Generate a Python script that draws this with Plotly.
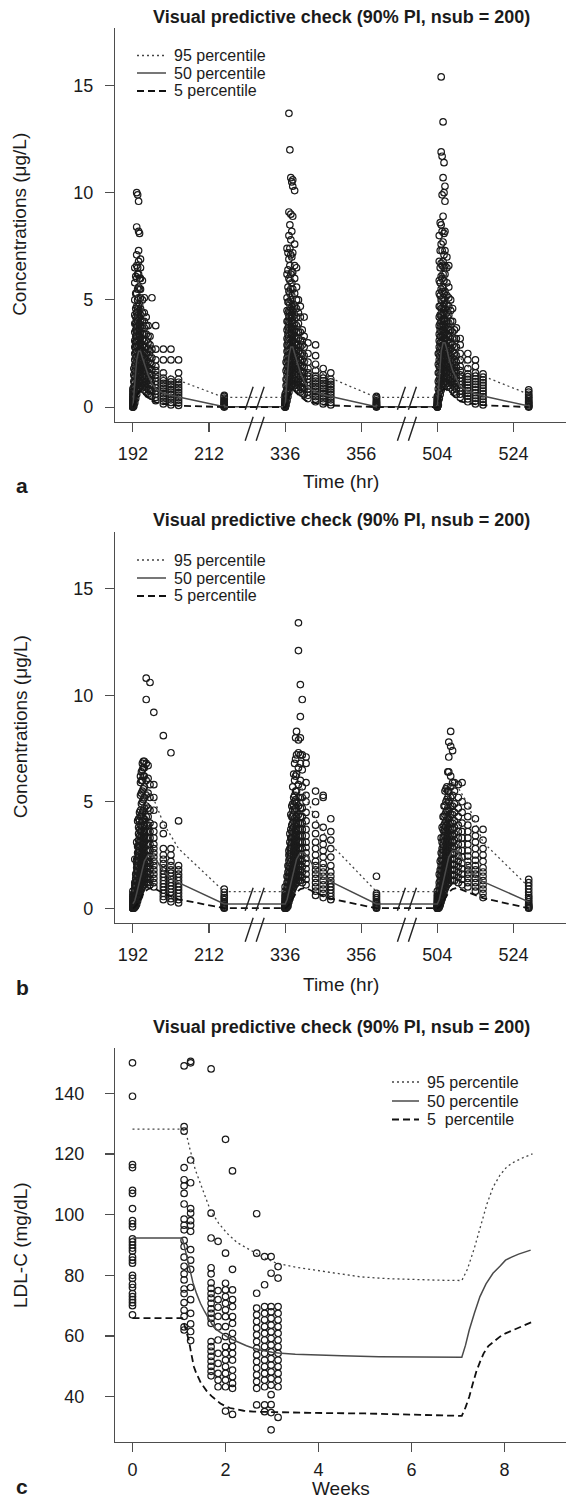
import plotly.graph_objects as go

# ------------------------------------------------------------------ text
TITLE = "Visual predictive check (90% PI, nsub = 200)"
PCT_NAMES_AB = ["95 percentile", "50 percentile", "5 percentile"]
PCT_NAMES_C = ["95 percentile", "50 percentile", "5  percentile"]
Y_TITLE_AB = "Concentrations (μg/L)"
Y_TITLE_C = "LDL-C (mg/dL)"
X_TITLE_AB = "Time (hr)"
X_TITLE_C = "Weeks"

# ------------------------------------------------------------------ time axis (with breaks) for panels a, b
DOSE_TIMES = [192, 336, 504]        # start of each dosing interval (hr)
AXIS_CUT = [0, 104, 232]            # hours cut out of the axis before each interval
X_TICKS = [192, 212, 336, 356, 504, 524]
X_TICK_INTERVAL = [0, 0, 1, 1, 2, 2]
Y_TICKS_AB = [0, 5, 10, 15]

# ------------------------------------------------------------------ panel a : observed concentrations (µg/L)
A_HOURS = [0, 0.25, 0.5, 0.75, 1, 1.25, 1.5, 1.75, 2, 2.5, 3, 3.5, 4, 4.5, 5, 6, 8, 10, 12, 24]
A1_CONC = [
    [0, 0, 0, 0.02, 0.03, 0.05, 0.07, 0.1, 0.12, 0.15, 0.18, 0.22, 0.26, 0.3, 0.35, 0.42, 0.5, 0.6, 0.72, 0.85],
    [0.05, 0.15, 0.3, 0.5, 0.7, 0.95, 1.2, 1.5, 1.8],
    [0.2, 0.45, 0.7, 0.95, 1.2, 1.45, 1.7, 1.95, 2.2, 2.5, 2.8, 3.1, 3.5, 3.9, 4.3, 5.0, 5.8, 6.5],
    [0.4, 0.7, 1.0, 1.3, 1.55, 1.8, 2.05, 2.3, 2.55, 2.8, 3.05, 3.3, 3.6, 3.9, 4.2, 4.6, 5.3, 6.1],
    [0.6, 0.85, 1.1, 1.35, 1.6, 1.85, 2.1, 2.35, 2.6, 2.85, 3.1, 3.35, 3.6, 3.85, 4.1, 4.4, 4.7, 5.3, 6.0, 6.6, 7.1, 8.4, 10.0],
    [0.8, 1.05, 1.3, 1.55, 1.8, 2.05, 2.3, 2.55, 2.8, 3.05, 3.3, 3.55, 3.8, 4.05, 4.3, 4.6, 5.0, 5.5, 6.2, 6.5, 9.9],
    [0.9, 1.15, 1.4, 1.65, 1.9, 2.15, 2.4, 2.65, 2.9, 3.15, 3.4, 3.65, 3.9, 4.15, 4.4, 4.7, 5.1, 5.6, 6.2, 6.8, 7.3, 8.2, 9.6],
    [0.9, 1.2, 1.5, 1.8, 2.1, 2.4, 2.7, 3.0, 3.3, 3.6, 3.9, 4.2, 4.5, 4.8, 5.5, 6.0, 8.1],
    [1.0, 1.25, 1.5, 1.75, 2.0, 2.25, 2.5, 2.75, 3.0, 3.25, 3.5, 3.75, 4.0, 4.3, 4.6, 5.1, 5.5, 6.0, 6.5, 6.9],
    [0.9, 1.15, 1.4, 1.65, 1.9, 2.15, 2.4, 2.65, 2.9, 3.15, 3.4, 3.7, 4.0, 4.4, 5.0, 5.9],
    [0.8, 1.05, 1.3, 1.55, 1.8, 2.05, 2.3, 2.55, 2.8, 3.1, 3.4, 3.7, 4.0, 4.4, 5.1],
    [0.7, 0.95, 1.2, 1.45, 1.7, 1.95, 2.2, 2.5, 2.8, 3.1, 3.4, 3.8, 4.2],
    [0.6, 0.85, 1.1, 1.35, 1.6, 1.85, 2.1, 2.4, 2.7, 3.0, 3.3, 3.8],
    [0.55, 0.8, 1.05, 1.3, 1.55, 1.8, 2.05, 2.3, 2.6, 2.9, 3.3],
    [0.5, 0.75, 1.0, 1.25, 1.5, 1.75, 2.0, 2.3, 2.7, 5.1],
    [0.3, 0.45, 0.6, 0.75, 0.9, 1.05, 1.2, 1.35, 1.5, 1.7, 1.9, 2.2, 2.7, 3.8],
    [0.15, 0.27, 0.39, 0.51, 0.63, 0.75, 0.87, 0.99, 1.11, 1.23, 1.35, 1.6, 2.2, 2.7],
    [0.1, 0.22, 0.34, 0.46, 0.58, 0.7, 0.82, 0.94, 1.06, 1.18, 1.3, 2.2, 2.7],
    [0.08, 0.2, 0.32, 0.44, 0.56, 0.68, 0.8, 0.92, 1.04, 1.16, 1.3, 1.6, 2.2],
    [0, 0.02, 0.05, 0.08, 0.12, 0.16, 0.2, 0.25, 0.3, 0.36, 0.42, 0.5, 0.55],
]
A2_CONC = [
    [0, 0, 0, 0.02, 0.04, 0.06, 0.08, 0.1, 0.13, 0.16, 0.2, 0.25, 0.3, 0.36, 0.43, 0.5, 0.6],
    [0.1, 0.25, 0.45, 0.7, 1.0, 1.3, 1.7, 2.1],
    [0.3, 0.55, 0.8, 1.05, 1.3, 1.55, 1.8, 2.05, 2.3, 2.6, 2.9, 3.2, 3.6, 4.0, 4.5, 5.1, 6.2, 7.4],
    [0.5, 0.8, 1.1, 1.4, 1.65, 1.9, 2.15, 2.4, 2.65, 2.9, 3.15, 3.4, 3.7, 4.0, 4.4, 4.9, 5.6, 6.4, 7.2],
    [0.7, 0.95, 1.2, 1.45, 1.7, 1.95, 2.2, 2.45, 2.7, 2.95, 3.2, 3.45, 3.7, 3.95, 4.2, 4.5, 4.9, 5.4, 6.0, 6.9, 8.0, 9.1, 13.7],
    [0.9, 1.15, 1.4, 1.65, 1.9, 2.15, 2.4, 2.65, 2.9, 3.15, 3.4, 3.65, 3.9, 4.15, 4.4, 4.8, 5.3, 5.9, 6.6, 7.4, 8.5, 12.0],
    [1.0, 1.25, 1.5, 1.75, 2.0, 2.25, 2.5, 2.75, 3.0, 3.25, 3.5, 3.75, 4.0, 4.3, 4.6, 5.0, 5.5, 6.2, 7.1, 7.8, 9.0, 10.7],
    [1.0, 1.3, 1.6, 1.9, 2.2, 2.5, 2.8, 3.1, 3.4, 3.7, 4.0, 4.3, 4.7, 5.2, 5.8, 6.3, 7.0, 8.2, 10.5],
    [1.1, 1.35, 1.6, 1.85, 2.1, 2.35, 2.6, 2.85, 3.1, 3.35, 3.6, 3.9, 4.2, 4.5, 4.8, 5.5, 6.3, 7.2, 8.9, 10.3, 10.6],
    [1.0, 1.25, 1.5, 1.75, 2.0, 2.25, 2.5, 2.75, 3.0, 3.3, 3.6, 3.9, 4.3, 4.7, 5.3, 6.0, 6.6, 7.6, 10.1],
    [0.9, 1.15, 1.4, 1.65, 1.9, 2.15, 2.4, 2.65, 2.9, 3.2, 3.5, 3.8, 4.2, 4.6, 5.0, 5.6, 6.5],
    [0.8, 1.05, 1.3, 1.55, 1.8, 2.05, 2.3, 2.6, 2.9, 3.2, 3.5, 3.9, 4.4, 5.0],
    [0.7, 0.95, 1.2, 1.45, 1.7, 1.95, 2.2, 2.5, 2.8, 3.1, 3.5, 4.2, 4.7],
    [0.65, 0.9, 1.15, 1.4, 1.65, 1.9, 2.2, 2.5, 2.9, 3.1, 3.6],
    [0.6, 0.85, 1.1, 1.35, 1.6, 1.85, 2.1, 2.4, 2.8, 3.3, 4.2],
    [0.4, 0.55, 0.7, 0.85, 1.0, 1.15, 1.3, 1.45, 1.6, 1.8, 2.1, 2.5, 3.0],
    [0.25, 0.37, 0.49, 0.61, 0.73, 0.85, 0.97, 1.09, 1.21, 1.33, 1.45, 1.7, 2.0, 2.4, 2.9],
    [0.15, 0.27, 0.39, 0.51, 0.63, 0.75, 0.87, 0.99, 1.11, 1.23, 1.35, 1.5, 1.8],
    [0.1, 0.22, 0.34, 0.46, 0.58, 0.7, 0.82, 0.94, 1.06, 1.18, 1.3, 1.6],
    [0, 0.02, 0.05, 0.08, 0.12, 0.16, 0.2, 0.25, 0.3, 0.38, 0.45, 0.5],
]
A3_CONC = [
    [0, 0, 0, 0.02, 0.04, 0.06, 0.08, 0.1, 0.13, 0.16, 0.2, 0.25, 0.3, 0.36, 0.43, 0.5],
    [0.1, 0.3, 0.55, 0.85, 1.2, 1.6, 2.0, 2.5],
    [0.4, 0.7, 1.0, 1.3, 1.6, 1.9, 2.2, 2.5, 2.8, 3.1, 3.4, 3.8, 4.2, 4.7, 5.3, 5.9, 6.8, 8.0],
    [0.6, 0.9, 1.2, 1.5, 1.8, 2.1, 2.4, 2.7, 3.0, 3.3, 3.6, 3.9, 4.3, 4.7, 5.2, 5.8, 6.5, 7.3, 8.6],
    [0.8, 1.05, 1.3, 1.55, 1.8, 2.05, 2.3, 2.55, 2.8, 3.05, 3.3, 3.55, 3.8, 4.05, 4.3, 4.6, 5.0, 5.5, 6.1, 6.7, 7.6, 8.5, 11.9, 15.4],
    [1.0, 1.25, 1.5, 1.75, 2.0, 2.25, 2.5, 2.75, 3.0, 3.25, 3.5, 3.75, 4.0, 4.3, 4.6, 5.0, 5.4, 6.0, 6.6, 7.3, 8.2, 9.9, 11.7],
    [1.1, 1.35, 1.6, 1.85, 2.1, 2.35, 2.6, 2.85, 3.1, 3.35, 3.6, 3.85, 4.1, 4.4, 4.7, 5.1, 5.6, 6.2, 6.8, 7.7, 8.9, 10.7, 13.3],
    [1.1, 1.4, 1.7, 2.0, 2.3, 2.6, 2.9, 3.2, 3.5, 3.8, 4.1, 4.4, 4.8, 5.3, 5.9, 6.5, 7.1, 8.1, 10.0, 11.4],
    [1.2, 1.45, 1.7, 1.95, 2.2, 2.45, 2.7, 2.95, 3.2, 3.45, 3.7, 4.0, 4.3, 4.6, 5.0, 5.4, 6.2, 6.6, 7.3, 8.2, 9.6, 10.3],
    [1.1, 1.35, 1.6, 1.85, 2.1, 2.35, 2.6, 2.85, 3.1, 3.4, 3.7, 4.0, 4.4, 4.8, 5.2, 5.8, 6.5, 7.0],
    [1.0, 1.25, 1.5, 1.75, 2.0, 2.25, 2.5, 2.75, 3.0, 3.3, 3.6, 3.9, 4.3, 4.7, 5.1, 5.6, 6.6],
    [0.9, 1.15, 1.4, 1.65, 1.9, 2.15, 2.4, 2.7, 3.0, 3.3, 3.6, 4.0, 4.5, 5.0],
    [0.8, 1.05, 1.3, 1.55, 1.8, 2.05, 2.3, 2.6, 2.9, 3.2, 3.5, 4.0, 4.6],
    [0.7, 0.95, 1.2, 1.45, 1.7, 1.95, 2.2, 2.5, 2.8, 3.2, 3.6],
    [0.6, 0.85, 1.1, 1.35, 1.6, 1.85, 2.1, 2.4, 2.8, 3.2, 3.7],
    [0.45, 0.6, 0.75, 0.9, 1.05, 1.2, 1.35, 1.5, 1.7, 1.9, 2.2, 2.5, 2.9, 3.2],
    [0.25, 0.38, 0.51, 0.64, 0.77, 0.9, 1.03, 1.16, 1.29, 1.42, 1.55, 1.8, 2.2, 2.5],
    [0.15, 0.28, 0.41, 0.54, 0.67, 0.8, 0.93, 1.06, 1.19, 1.32, 1.45, 1.6, 1.9, 2.2],
    [0.1, 0.23, 0.36, 0.49, 0.62, 0.75, 0.88, 1.01, 1.14, 1.27, 1.4, 1.55],
    [0, 0.02, 0.05, 0.1, 0.15, 0.2, 0.25, 0.3, 0.38, 0.45, 0.52, 0.6, 0.7, 0.8],
]

# panel a : simulated percentiles (one row per dosing interval)
PCT_HOURS = [0, 0.5, 1, 1.5, 2, 2.5, 3, 4, 5, 6, 8, 10, 12, 24]
A_P95 = [
    [0.45, 3.5, 5.5, 6.0, 5.6, 4.8, 4.0, 3.0, 2.4, 2.0, 1.7, 1.45, 1.25, 0.45],
    [0.45, 4.0, 6.0, 6.4, 6.0, 5.2, 4.4, 3.3, 2.6, 2.1, 1.8, 1.55, 1.35, 0.45],
    [0.45, 4.4, 6.5, 6.9, 6.5, 5.7, 4.8, 3.6, 2.8, 2.3, 1.9, 1.65, 1.45, 0.6],
]
A_P50 = [
    [0.02, 1.2, 2.2, 2.6, 2.6, 2.3, 2.0, 1.5, 1.1, 0.85, 0.65, 0.55, 0.47, 0.02],
    [0.02, 1.3, 2.4, 2.8, 2.8, 2.5, 2.2, 1.6, 1.2, 0.9, 0.7, 0.58, 0.5, 0.02],
    [0.02, 1.4, 2.6, 3.0, 3.0, 2.7, 2.3, 1.7, 1.3, 0.95, 0.75, 0.62, 0.52, 0.05],
]
A_P5 = [
    [0, 0.2, 0.5, 0.7, 0.75, 0.7, 0.6, 0.45, 0.3, 0.22, 0.15, 0.1, 0.07, 0],
    [0, 0.25, 0.55, 0.75, 0.8, 0.75, 0.65, 0.5, 0.35, 0.25, 0.17, 0.12, 0.08, 0],
    [0, 0.3, 0.6, 0.8, 0.85, 0.8, 0.7, 0.55, 0.38, 0.27, 0.18, 0.13, 0.09, 0],
]

# ------------------------------------------------------------------ panel b : observed concentrations (µg/L)
B1_HOURS = [0, 0.25, 0.5, 0.75, 1, 1.25, 1.5, 1.75, 2, 2.25, 2.5, 2.75, 3, 3.5, 4, 4.5, 5.5, 8, 10, 12, 24]
B1_CONC = [
    [0, 0, 0, 0.02, 0.04, 0.06, 0.08, 0.1, 0.13, 0.16, 0.2, 0.25, 0.3, 0.38, 0.45, 0.55, 0.65, 0.8],
    [0, 0.03, 0.06, 0.1, 0.15, 0.2, 0.3, 0.4, 0.55],
    [0.05, 0.1, 0.15, 0.22, 0.3, 0.4, 0.5, 0.62, 0.75, 0.9, 1.05, 1.2, 2.3],
    [0.1, 0.2, 0.3, 0.42, 0.55, 0.7, 0.85, 1.0, 1.2, 1.4, 1.6],
    [0.2, 0.35, 0.5, 0.65, 0.8, 0.95, 1.1, 1.3, 1.5, 1.7, 1.9, 2.1, 2.3, 3.1],
    [0.35, 0.5, 0.7, 0.9, 1.1, 1.3, 1.5, 1.7, 1.9, 2.1, 2.35, 2.6, 2.9, 4.1],
    [0.5, 0.7, 0.9, 1.1, 1.3, 1.5, 1.7, 1.9, 2.1, 2.35, 2.6, 2.9, 3.2, 3.5, 3.8, 4.2],
    [0.6, 0.85, 1.1, 1.35, 1.6, 1.85, 2.1, 2.35, 2.6, 2.85, 3.1, 3.4, 3.7, 4.1, 4.5],
    [0.8, 1.05, 1.3, 1.55, 1.8, 2.05, 2.3, 2.55, 2.8, 3.05, 3.3, 3.6, 3.9, 4.3, 4.6, 5.3, 5.9, 6.2],
    [0.9, 1.15, 1.4, 1.65, 1.9, 2.15, 2.4, 2.65, 2.9, 3.15, 3.4, 3.7, 4.0, 4.4, 4.9, 5.4, 6.0, 6.4],
    [1.0, 1.25, 1.5, 1.75, 2.0, 2.25, 2.5, 2.75, 3.0, 3.25, 3.5, 3.8, 4.1, 4.5, 5.0, 5.5, 6.0, 6.5, 6.8],
    [1.05, 1.3, 1.55, 1.8, 2.05, 2.3, 2.55, 2.8, 3.05, 3.3, 3.6, 3.9, 4.2, 4.6, 5.1, 5.6, 6.2, 6.6, 6.9],
    [1.1, 1.35, 1.6, 1.85, 2.1, 2.35, 2.6, 2.85, 3.1, 3.35, 3.6, 3.9, 4.2, 4.7, 5.2, 5.7, 6.2, 6.6, 6.9],
    [1.2, 1.45, 1.7, 1.95, 2.2, 2.45, 2.7, 3.0, 3.3, 3.6, 3.9, 4.3, 4.8, 5.3, 6.0, 6.8, 9.8, 10.8],
    [1.2, 1.45, 1.7, 1.95, 2.2, 2.45, 2.7, 3.0, 3.3, 3.6, 3.9, 4.3, 4.7, 5.4, 6.1, 6.7],
    [1.1, 1.35, 1.6, 1.85, 2.1, 2.4, 2.7, 3.0, 3.3, 3.6, 4.0, 4.6, 5.2, 5.8, 10.6],
    [1.0, 1.2, 1.4, 1.6, 1.8, 2.0, 2.2, 2.4, 2.6, 2.8, 3.0, 3.3, 3.6, 3.9, 4.6, 5.2, 5.8, 9.2],
    [0.4, 0.55, 0.7, 0.85, 1.0, 1.15, 1.3, 1.45, 1.6, 1.75, 1.9, 2.1, 2.3, 2.5, 2.8, 3.5, 3.9, 8.1],
    [0.3, 0.45, 0.6, 0.75, 0.9, 1.05, 1.2, 1.35, 1.5, 1.65, 1.8, 2.0, 2.2, 2.5, 2.8, 7.3],
    [0.25, 0.4, 0.55, 0.7, 0.85, 1.0, 1.15, 1.3, 1.45, 1.6, 1.8, 2.0, 4.1],
    [0, 0.02, 0.05, 0.1, 0.15, 0.2, 0.25, 0.3, 0.4, 0.5, 0.6, 0.75, 0.9],
]
B2_HOURS = [0, 0.25, 0.5, 0.75, 1, 1.25, 1.5, 1.75, 2, 2.25, 2.5, 2.75, 3, 3.5, 4, 4.5, 5.5, 8, 10, 12, 24]
B2_CONC = [
    [0, 0, 0, 0.02, 0.04, 0.06, 0.08, 0.1, 0.13, 0.16, 0.2, 0.25, 0.3, 0.38, 0.45, 0.55, 0.65, 0.8, 1.0],
    [0, 0.03, 0.06, 0.1, 0.15, 0.2, 0.3, 0.4, 0.55],
    [0.05, 0.1, 0.18, 0.26, 0.35, 0.45, 0.57, 0.7, 0.85, 1.0, 1.2, 1.5],
    [0.1, 0.2, 0.32, 0.45, 0.6, 0.75, 0.9, 1.05, 1.25, 1.45, 1.7, 2.0],
    [0.3, 0.45, 0.6, 0.75, 0.9, 1.05, 1.2, 1.4, 1.6, 1.8, 2.0, 2.25, 2.5, 2.7],
    [0.45, 0.65, 0.85, 1.05, 1.25, 1.45, 1.65, 1.85, 2.05, 2.3, 2.55, 2.8, 3.1, 3.5],
    [0.6, 0.8, 1.0, 1.2, 1.4, 1.6, 1.8, 2.0, 2.25, 2.5, 2.75, 3.0, 3.3, 3.7, 4.4],
    [0.75, 1.0, 1.25, 1.5, 1.75, 2.0, 2.25, 2.5, 2.75, 3.0, 3.3, 3.6, 3.9, 4.3, 4.8],
    [0.9, 1.15, 1.4, 1.65, 1.9, 2.15, 2.4, 2.65, 2.9, 3.15, 3.4, 3.7, 4.0, 4.3, 4.6, 4.9, 5.7],
    [1.0, 1.25, 1.5, 1.75, 2.0, 2.25, 2.5, 2.75, 3.0, 3.25, 3.5, 3.8, 4.1, 4.4, 4.8, 5.2, 6.3],
    [1.1, 1.35, 1.6, 1.85, 2.1, 2.35, 2.6, 2.85, 3.1, 3.35, 3.6, 3.9, 4.2, 4.6, 5.0, 5.3, 6.0, 6.8],
    [1.15, 1.4, 1.65, 1.9, 2.15, 2.4, 2.65, 2.9, 3.15, 3.4, 3.7, 4.0, 4.3, 4.7, 5.1, 5.5, 6.2, 7.0, 8.0],
    [1.2, 1.45, 1.7, 1.95, 2.2, 2.45, 2.7, 2.95, 3.2, 3.45, 3.7, 4.0, 4.3, 4.6, 5.0, 5.5, 6.3, 7.2, 8.3],
    [1.3, 1.55, 1.8, 2.05, 2.3, 2.55, 2.8, 3.1, 3.4, 3.7, 4.0, 4.4, 4.8, 5.2, 5.8, 6.6, 7.3, 7.9, 12.1, 13.4],
    [1.3, 1.55, 1.8, 2.05, 2.3, 2.55, 2.8, 3.1, 3.4, 3.7, 4.0, 4.3, 4.7, 5.2, 6.0, 6.8, 7.2, 8.0, 9.0, 10.5],
    [1.2, 1.45, 1.7, 1.95, 2.2, 2.5, 2.8, 3.1, 3.4, 3.7, 4.0, 4.3, 4.7, 5.2, 5.7, 6.5, 7.2, 9.8],
    [1.1, 1.35, 1.6, 1.85, 2.1, 2.35, 2.6, 2.85, 3.1, 3.4, 3.7, 4.1, 4.5, 5.0, 5.3, 5.9, 6.8, 7.1],
    [0.6, 0.8, 1.0, 1.2, 1.4, 1.6, 1.8, 2.0, 2.2, 2.5, 2.8, 3.1, 3.5, 3.9, 4.4, 5.0, 5.5],
    [0.5, 0.7, 0.9, 1.1, 1.3, 1.5, 1.7, 1.9, 2.1, 2.4, 2.7, 3.0, 3.3, 3.8, 5.2, 5.3],
    [0.4, 0.55, 0.7, 0.85, 1.0, 1.15, 1.3, 1.5, 1.7, 2.0, 2.4, 2.8, 3.2, 3.6, 4.2],
    [0, 0.02, 0.05, 0.1, 0.15, 0.2, 0.25, 0.3, 0.4, 0.5, 0.6, 0.7, 1.5],
]
B3_HOURS = [0, 0.25, 0.5, 0.75, 1, 1.25, 1.5, 1.75, 2, 2.25, 2.5, 2.75, 3, 3.5, 4, 4.5, 5.5, 6.5, 8, 10, 12, 24]
B3_CONC = [
    [0, 0, 0, 0.02, 0.04, 0.06, 0.08, 0.1, 0.13, 0.16, 0.2, 0.25, 0.3, 0.38, 0.45, 0.55, 0.65, 0.8],
    [0, 0.03, 0.06, 0.1, 0.15, 0.2, 0.3, 0.4, 0.6],
    [0.05, 0.1, 0.18, 0.26, 0.35, 0.45, 0.57, 0.7, 0.85, 1.0, 1.2, 1.6],
    [0.15, 0.25, 0.37, 0.5, 0.65, 0.8, 0.95, 1.1, 1.3, 1.5, 1.8, 2.2],
    [0.3, 0.45, 0.6, 0.75, 0.9, 1.05, 1.2, 1.4, 1.6, 1.8, 2.0, 2.3, 2.6, 3.3],
    [0.45, 0.65, 0.85, 1.05, 1.25, 1.45, 1.65, 1.85, 2.05, 2.3, 2.55, 2.8, 3.1, 3.8],
    [0.6, 0.8, 1.0, 1.2, 1.4, 1.6, 1.8, 2.0, 2.25, 2.5, 2.75, 3.0, 3.3, 3.7, 4.3],
    [0.75, 1.0, 1.25, 1.5, 1.75, 2.0, 2.25, 2.5, 2.75, 3.0, 3.3, 3.6, 3.9, 4.3, 4.8],
    [0.9, 1.15, 1.4, 1.65, 1.9, 2.15, 2.4, 2.65, 2.9, 3.15, 3.4, 3.7, 4.0, 4.4, 4.8, 5.5],
    [1.0, 1.25, 1.5, 1.75, 2.0, 2.25, 2.5, 2.75, 3.0, 3.25, 3.5, 3.8, 4.1, 4.5, 5.0, 5.6],
    [1.1, 1.35, 1.6, 1.85, 2.1, 2.35, 2.6, 2.85, 3.1, 3.35, 3.6, 3.9, 4.2, 4.6, 5.1, 5.7],
    [1.15, 1.4, 1.65, 1.9, 2.15, 2.4, 2.65, 2.9, 3.15, 3.4, 3.7, 4.0, 4.3, 4.7, 5.2, 5.5, 6.4],
    [1.2, 1.45, 1.7, 1.95, 2.2, 2.45, 2.7, 2.95, 3.2, 3.5, 3.8, 4.2, 4.6, 5.0, 5.5, 6.4, 7.1, 7.8],
    [1.3, 1.55, 1.8, 2.05, 2.3, 2.55, 2.8, 3.1, 3.4, 3.7, 4.0, 4.4, 4.8, 5.2, 5.7, 6.2, 7.6, 8.3],
    [1.3, 1.55, 1.8, 2.05, 2.3, 2.55, 2.8, 3.1, 3.4, 3.7, 4.0, 4.4, 4.8, 5.3, 5.9, 7.4],
    [1.3, 1.55, 1.8, 2.05, 2.3, 2.6, 2.9, 3.2, 3.5, 3.8, 4.1, 4.5, 4.9, 5.5, 5.9],
    [1.2, 1.45, 1.7, 1.95, 2.2, 2.45, 2.7, 3.0, 3.3, 3.6, 3.9, 4.3, 4.7, 5.2, 5.8],
    [1.1, 1.35, 1.6, 1.85, 2.1, 2.4, 2.7, 3.0, 3.3, 3.6, 4.0, 4.5, 5.0, 5.9],
    [1.0, 1.2, 1.4, 1.6, 1.8, 2.0, 2.2, 2.45, 2.7, 3.0, 3.3, 3.6, 3.9, 4.3, 4.8],
    [0.8, 1.0, 1.2, 1.4, 1.6, 1.8, 2.0, 2.25, 2.5, 2.8, 3.1, 3.4, 3.7, 4.2],
    [0.5, 0.7, 0.9, 1.1, 1.3, 1.5, 1.7, 1.9, 2.2, 2.5, 2.8, 3.2, 3.7],
    [0, 0.02, 0.05, 0.1, 0.15, 0.2, 0.3, 0.4, 0.5, 0.6, 0.75, 0.9, 1.05, 1.2, 1.35],
]

# panel b : simulated percentiles (one row per dosing interval)
B_P95 = [
    [0.78, 1.2, 2.2, 3.2, 4.1, 4.8, 5.2, 5.5, 5.3, 4.9, 4.0, 3.4, 2.8, 0.78],
    [0.78, 1.4, 2.5, 3.5, 4.4, 5.0, 5.4, 5.7, 5.5, 5.0, 4.2, 3.6, 3.0, 0.78],
    [0.78, 1.5, 2.6, 3.6, 4.5, 5.1, 5.5, 5.9, 5.8, 5.5, 4.9, 4.0, 3.1, 1.0],
]
B_P50 = [
    [0.2, 0.35, 0.7, 1.1, 1.5, 1.9, 2.2, 2.5, 2.5, 2.3, 1.75, 1.4, 1.2, 0.2],
    [0.2, 0.4, 0.8, 1.2, 1.6, 2.0, 2.3, 2.6, 2.6, 2.4, 1.8, 1.45, 1.25, 0.2],
    [0.2, 0.4, 0.8, 1.2, 1.6, 2.0, 2.4, 2.7, 2.7, 2.5, 1.9, 1.5, 1.25, 0.3],
]
B_P5 = [
    [0, 0.05, 0.15, 0.3, 0.45, 0.6, 0.75, 0.9, 0.95, 0.9, 0.7, 0.55, 0.42, 0],
    [0, 0.05, 0.15, 0.3, 0.45, 0.6, 0.75, 0.9, 0.95, 0.9, 0.72, 0.57, 0.45, 0],
    [0, 0.05, 0.15, 0.3, 0.45, 0.6, 0.75, 0.9, 0.95, 0.9, 0.75, 0.6, 0.47, 0],
]

# ------------------------------------------------------------------ panel c : LDL-C (mg/dL)
C_WEEKS = [0, 1.11, 1.25, 1.69, 1.84, 2.0, 2.15, 2.67, 2.84, 2.98, 3.13]
C_LDL = [
    [150, 139, 116.5, 115.5, 108, 107, 102, 98, 97, 96, 92, 91, 90, 89, 88, 86, 85, 84, 80, 79, 77, 76,
     74, 73, 72, 71, 70, 67],
    [149, 129, 127.5, 115.5, 111.5, 109.5, 107, 103.5, 98.5, 96.5, 95, 91.5, 89.5, 86, 83, 80.5, 78.5,
     75.5, 74, 71, 68.5, 66.5, 63, 62],
    [150.5, 150, 118, 110.5, 102, 100.5, 98, 96.5, 94.5, 88.5, 85, 82, 76, 72, 67.5, 64, 61.5, 58.5],
    [148, 100.5, 92.3, 82.5, 80.5, 77.5, 75.7, 74, 72.5, 70.8, 69, 67.5, 65.8, 64.2, 58.2, 56.5, 55,
     53.3, 51.7, 50, 48.4, 46.9],
    [91.2, 75, 72, 69.5, 66.5, 63, 58.7, 54.3, 51, 47.7, 45.5, 43.3],
    [124.8, 87.3, 77.4, 75.2, 73, 70.8, 68.6, 66.4, 63.1, 59.8, 56.5, 54.3, 52.1, 49.9, 47.7, 45.5,
     43.3, 35.3],
    [114.4, 82, 75.2, 72, 69.7, 66.4, 64.2, 60.9, 58.7, 56.5, 54.3, 52.1, 48.8, 46.6, 44.4, 42.8, 34.2],
    [100.3, 87.3, 74.1, 69.2, 67, 64.8, 62.6, 60.4, 58.2, 56, 53.8, 51.6, 49.4, 47.2, 45, 42.8, 37.3],
    [86.2, 76.9, 69.7, 67.5, 65.3, 63.1, 60.9, 58.7, 56.5, 54.3, 52.1, 49.9, 47.7, 45.5, 43.3, 37.3,
     35.1],
    [86.2, 80.7, 69.7, 68, 65.8, 63.6, 61.4, 59.2, 57, 54.8, 52.6, 50.4, 48.2, 46, 43.8, 40.7, 37.4,
     34.8, 29.1],
    [82.9, 79.1, 69.7, 67.5, 65.3, 63.1, 60.9, 58.7, 56.5, 54.3, 52.1, 49.9, 47.7, 45.5, 43.3, 33.2],
]
C_P95_WEEKS = [0, 1.07, 1.12, 1.17, 1.22, 1.28, 1.35, 1.43, 1.55, 1.67, 1.85, 2.03, 2.25, 2.53, 2.8,
               3.1, 3.5, 3.9, 4.4, 4.9, 5.5, 6.0, 6.6, 7.08, 7.2, 7.35, 7.48, 7.62, 7.75, 7.9, 8.05,
               8.2, 8.4, 8.6]
C_P95 = [128.2, 128.2, 127.3, 125.8, 122.5, 118.7, 114.8, 111.5, 106.2, 101.6, 97.2, 93.9, 90.8, 88.4,
         86.0, 84.0, 82.7, 81.8, 80.6, 79.5, 78.9, 78.6, 78.4, 78.3, 82.0, 89.0, 96.0, 103.5, 109.0,
         113.0, 115.8, 117.3, 118.8, 120.0]
C_P50_WEEKS = [0, 1.07, 1.12, 1.17, 1.24, 1.3, 1.38, 1.46, 1.55, 1.65, 1.74, 1.85, 1.95, 2.06, 2.17,
               2.3, 2.45, 2.6, 2.75, 3.0, 3.2, 3.5, 3.8, 4.5, 5.3, 6.2, 7.08, 7.16, 7.24, 7.35, 7.47,
               7.6, 7.75, 7.9, 8.02, 8.15, 8.3, 8.56]
C_P50 = [92.3, 92.3, 89.3, 86.0, 80.7, 77.6, 73.9, 70.8, 68.1, 65.4, 63.1, 61.6, 60.5, 59.5, 58.7,
         57.7, 56.8, 56.0, 55.4, 54.7, 54.3, 54.0, 53.8, 53.5, 53.2, 53.1, 53.0, 57.0, 62.0, 67.5, 73.0,
         77.2, 80.7, 83.0, 85.0, 86.0, 87.0, 88.3]
C_P5_WEEKS = [0, 1.07, 1.11, 1.15, 1.21, 1.26, 1.32, 1.37, 1.42, 1.47, 1.53, 1.6, 1.7, 1.8, 1.89,
              2.0, 2.1, 2.25, 2.39, 2.6, 3.0, 3.4, 3.82, 5.0, 6.0, 7.08, 7.16, 7.24, 7.32, 7.4, 7.48,
              7.55, 7.65, 7.79, 7.9, 8.02, 8.15, 8.3, 8.45, 8.6]
C_P5 = [65.9, 65.9, 64.0, 62.0, 58.7, 54.5, 49.9, 47.8, 46.0, 44.6, 43.3, 41.8, 40.2, 38.9, 37.8, 36.9,
        36.3, 35.8, 35.4, 35.1, 34.9, 34.8, 34.7, 34.5, 34.1, 33.7, 36.5, 40.0, 44.5, 48.7, 51.8, 54.3,
        56.7, 58.6, 59.8, 60.9, 61.8, 62.8, 63.8, 64.7]
C_X_TICKS = [0, 2, 4, 6, 8]
C_Y_TICKS = [40, 60, 80, 100, 120, 140]

# ------------------------------------------------------------------ layout geometry (pixels)
W, H = 566, 1501
FONT = "Liberation Sans, Arial, Helvetica, sans-serif"
INK = "#1b1b1b"
AXIS_COL = "#4d4d4d"
PLOT_L, PLOT_R = 115, 566
PANELS = {
    "a": dict(top=28.0, bottom=421.7),
    "b": dict(top=531.7, bottom=922.7),
    "c": dict(top=1048.3, bottom=1441.7),
}
X_RANGE_AB = [187.3, 305.8]
Y_RANGE_AB = [-0.68, 17.68]
X_RANGE_C = [-0.376, 9.32]
Y_RANGE_C = [25.2, 154.8]


def px_x(px):
    return px / W


def px_y(py):
    return 1 - py / H


def disp(interval, hours):
    return DOSE_TIMES[interval] + hours - AXIS_CUT[interval]


fig = go.Figure()

MARKER = dict(symbol="circle-open", size=6.5, color=INK, line=dict(width=1.2, color=INK))
P95_STYLE = dict(color="#444444", width=1.3, dash="2px,3px")
P50_STYLE = dict(color="#4a4a4a", width=1.5)
P5_STYLE = dict(color="#111111", width=1.8, dash="7px,4px")


def add_obs(hours, conc, interval, xa, ya):
    xs, ys = [], []
    for h, vals in zip(hours, conc):
        for v in vals:
            xs.append(disp(interval, h))
            ys.append(v)
    fig.add_trace(go.Scatter(x=xs, y=ys, mode="markers", marker=MARKER, showlegend=False,
                             hoverinfo="skip", xaxis=xa, yaxis=ya))


def add_pct(pcts, style, xa, ya):
    xs, ys = [], []
    for i, vals in enumerate(pcts):
        for h, v in zip(PCT_HOURS, vals):
            xs.append(disp(i, h))
            ys.append(v)
    fig.add_trace(go.Scatter(x=xs, y=ys, mode="lines", line=style, showlegend=False,
                             hoverinfo="skip", xaxis=xa, yaxis=ya))


# panel a
for i, conc in enumerate([A1_CONC, A2_CONC, A3_CONC]):
    add_obs(A_HOURS, conc, i, "x", "y")
add_pct(A_P95, P95_STYLE, "x", "y")
add_pct(A_P50, P50_STYLE, "x", "y")
add_pct(A_P5, P5_STYLE, "x", "y")

# panel b
for i, (hrs, conc) in enumerate([(B1_HOURS, B1_CONC), (B2_HOURS, B2_CONC), (B3_HOURS, B3_CONC)]):
    add_obs(hrs, conc, i, "x2", "y2")
add_pct(B_P95, P95_STYLE, "x2", "y2")
add_pct(B_P50, P50_STYLE, "x2", "y2")
add_pct(B_P5, P5_STYLE, "x2", "y2")

# panel c
cx, cy = [], []
for w, vals in zip(C_WEEKS, C_LDL):
    for v in vals:
        cx.append(w)
        cy.append(v)
fig.add_trace(go.Scatter(x=cx, y=cy, mode="markers", marker=MARKER, showlegend=False,
                         hoverinfo="skip", xaxis="x3", yaxis="y3"))
for wk, vals, st in [(C_P95_WEEKS, C_P95, P95_STYLE), (C_P50_WEEKS, C_P50, P50_STYLE),
                     (C_P5_WEEKS, C_P5, P5_STYLE)]:
    fig.add_trace(go.Scatter(x=wk, y=vals, mode="lines", line=st, showlegend=False,
                             hoverinfo="skip", xaxis="x3", yaxis="y3"))

# ------------------------------------------------------------------ axes
tick_font = dict(family=FONT, size=18, color=INK)
common = dict(showline=True, linecolor=AXIS_COL, linewidth=1.2, ticks="outside", ticklen=9,
              tickwidth=1.2, tickcolor=AXIS_COL, showgrid=False, zeroline=False, tickfont=tick_font,
              mirror=False)
xdom = [px_x(PLOT_L), px_x(PLOT_R)]


def ydom(p):
    return [px_y(PANELS[p]["bottom"]), px_y(PANELS[p]["top"])]


ab_tickvals = [X_TICKS[k] - AXIS_CUT[X_TICK_INTERVAL[k]] for k in range(len(X_TICKS))]
ab_ticktext = [str(t) for t in X_TICKS]

layout_axes = {}
for n, p in [("", "a"), ("2", "b")]:
    layout_axes["xaxis" + n] = dict(common, domain=xdom, range=X_RANGE_AB, tickvals=ab_tickvals,
                                     ticktext=ab_ticktext, anchor="y" + n, ticklabelstandoff=6)
    layout_axes["yaxis" + n] = dict(common, domain=ydom(p), range=Y_RANGE_AB, tickvals=Y_TICKS_AB,
                                     anchor="x" + n, ticklabelstandoff=8)
layout_axes["xaxis3"] = dict(common, domain=xdom, range=X_RANGE_C, tickvals=C_X_TICKS,
                             anchor="y3", ticklabelstandoff=2)
layout_axes["yaxis3"] = dict(common, domain=ydom("c"), range=Y_RANGE_C, tickvals=C_Y_TICKS,
                             anchor="x3", ticklabelstandoff=17)

# ------------------------------------------------------------------ text and legends
ann = []
shapes = []


def text(x, y, s, size, bold=False, xanchor="center", angle=0):
    ann.append(dict(x=px_x(x), y=px_y(y), xref="paper", yref="paper",
                    text=("<b>%s</b>" % s) if bold else s,
                    showarrow=False, xanchor=xanchor, yanchor="middle", textangle=angle,
                    font=dict(family=FONT, size=size, color=INK)))


TITLE_Y = {"a": 17, "b": 520, "c": 1027}
XLAB_Y = {"a": 482, "b": 984, "c": 1488}
LETTER_Y = {"a": 485, "b": 987, "c": 1486}
for p in "abc":
    text(341, TITLE_Y[p], TITLE, 18, bold=True)
    text(341, XLAB_Y[p], X_TITLE_C if p == "c" else X_TITLE_AB, 19)
    text(22, LETTER_Y[p], p, 21, bold=True)
    yc = (PANELS[p]["top"] + PANELS[p]["bottom"]) / 2
    text(20, yc, Y_TITLE_C if p == "c" else Y_TITLE_AB, 19, angle=-90)

LEGEND_ROWS = {"a": [55.5, 73, 91], "b": [560, 578, 596], "c": [1082, 1101, 1119.5]}
LEGEND_X = {"a": (137, 166, 172), "b": (137, 166, 172), "c": (392, 419, 425)}
styles = [P95_STYLE, P50_STYLE, P5_STYLE]
for p in "abc":
    x0, x1, xt = LEGEND_X[p]
    names = PCT_NAMES_C if p == "c" else PCT_NAMES_AB
    for yy, name, st in zip(LEGEND_ROWS[p], names, styles):
        shapes.append(dict(type="line", xref="paper", yref="paper", x0=px_x(x0), x1=px_x(x1),
                           y0=px_y(yy), y1=px_y(yy), line=st))
        text(xt, yy, name, 16, xanchor="left")

# axis-break marks ("//") for panels a and b
for p in "ab":
    bottom = PANELS[p]["bottom"]
    for i in range(len(DOSE_TIMES) - 1):
        xd = (disp(i, 24) + disp(i + 1, 0)) / 2
        cxp = PLOT_L + (xd - X_RANGE_AB[0]) / (X_RANGE_AB[1] - X_RANGE_AB[0]) * (PLOT_R - PLOT_L)
        for dx in (-5.5, 5.5):
            for (ylo, yhi) in ((bottom - 12, bottom - 35), (bottom + 19, bottom - 5)):
                shapes.append(dict(type="line", xref="paper", yref="paper",
                                   x0=px_x(cxp + dx - 4), y0=px_y(ylo),
                                   x1=px_x(cxp + dx + 4), y1=px_y(yhi),
                                   line=dict(color="#222222", width=1.4)))

fig.update_layout(
    width=W, height=H, margin=dict(l=0, r=0, t=0, b=0),
    paper_bgcolor="white", plot_bgcolor="white", showlegend=False,
    annotations=ann, shapes=shapes, **layout_axes,
)

# remove the browser's default 8px page margin so the figure sits at the window's top-left corner
fig.write_html("out.html",
               config={"displayModeBar": False, "staticPlot": True},
               post_script="document.body.style.margin='0px';document.body.style.overflow='hidden';")
